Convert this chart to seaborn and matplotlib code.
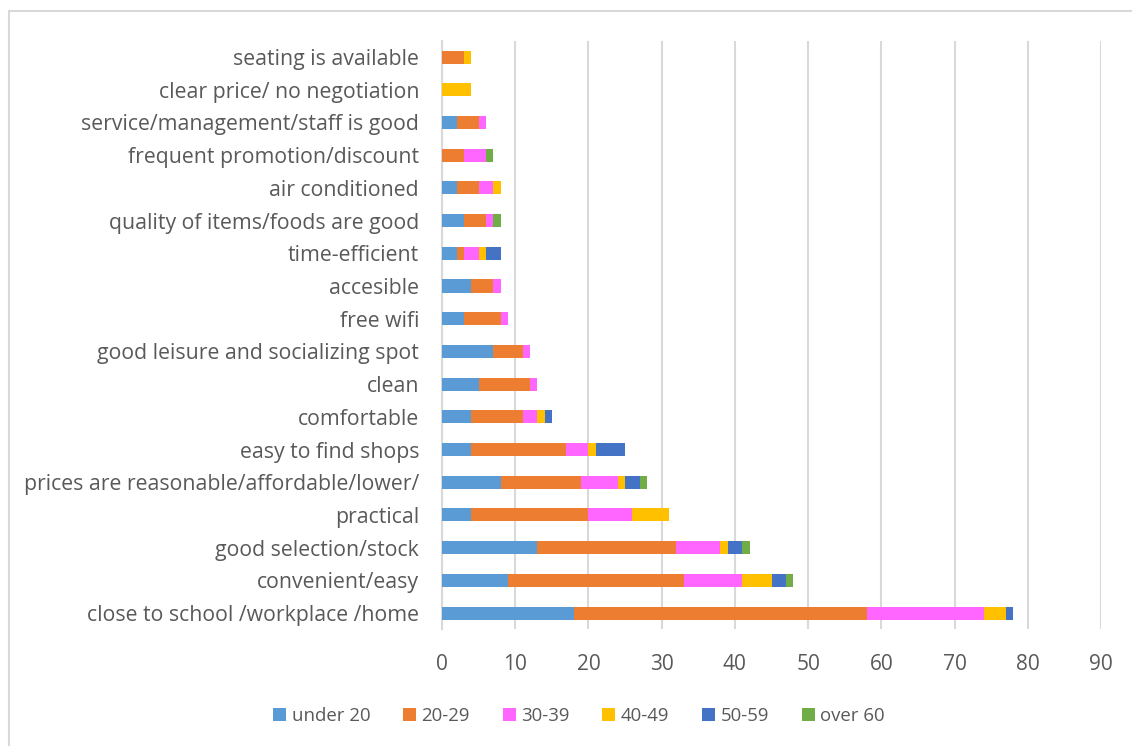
import numpy as np
import pandas as pd
import seaborn as sns
import matplotlib
matplotlib.use("Agg")
import matplotlib.pyplot as plt
from matplotlib.patches import Patch, Rectangle

reasons = [
    "seating is available",
    "clear price/ no negotiation",
    "service/management/staff is good",
    "frequent promotion/discount",
    "air conditioned",
    "quality of items/foods are good",
    "time-efficient",
    "accesible",
    "free wifi",
    "good leisure and socializing spot",
    "clean",
    "comfortable",
    "easy to find shops",
    "prices are reasonable/affordable/lower/",
    "practical",
    "good selection/stock",
    "convenient/easy",
    "close to school /workplace /home",
]

age_groups = ["under 20", "20-29", "30-39", "40-49", "50-59", "over 60"]

under_20 = [0, 0, 2, 0, 2, 3, 2, 4, 3, 7, 5, 4, 4, 8, 4, 13, 9, 18]
age_20_29 = [3, 0, 3, 3, 3, 3, 1, 3, 5, 4, 7, 7, 13, 11, 16, 19, 24, 40]
age_30_39 = [0, 0, 1, 3, 2, 1, 2, 1, 1, 1, 1, 2, 3, 5, 6, 6, 8, 16]
age_40_49 = [1, 4, 0, 0, 1, 0, 1, 0, 0, 0, 0, 1, 1, 1, 5, 1, 4, 3]
age_50_59 = [0, 0, 0, 0, 0, 0, 2, 0, 0, 0, 0, 1, 4, 2, 0, 2, 2, 1]
over_60 = [0, 0, 0, 1, 0, 1, 0, 0, 0, 0, 0, 0, 0, 1, 0, 1, 1, 0]

colors = ["#5B9BD5", "#ED7D31", "#FF66FF", "#FFC000", "#4472C4", "#70AD47"]

series = [under_20, age_20_29, age_30_39, age_40_49, age_50_59, over_60]
df = pd.DataFrame(dict(zip(age_groups, series)), index=reasons)
cum = df.cumsum(axis=1)

sns.set_theme(style="white")
plt.rcParams["font.family"] = ["Open Sans", "DejaVu Sans"]
text_color = "#595959"
grid_color = "#D9D9D9"

fig = plt.figure(figsize=(11.32, 7.46), dpi=100)
ax = fig.add_axes([442 / 1132, 1 - 629.4 / 746, (1101 - 442) / 1132, (629.4 - 40.7) / 746])

# Stacked bars: draw running totals from the outermost segment inward
for group, color in reversed(list(zip(age_groups, colors))):
    plot_df = pd.DataFrame({"reason": reasons, "total": cum[group].values})
    sns.barplot(data=plot_df, x="total", y="reason", order=reasons,
                color=color, saturation=1, width=0.4, orient="h",
                ax=ax, zorder=3, linewidth=0)

ax.set_xlim(0, 90)
ax.set_xticks(np.arange(0, 91, 10))
ax.set_xlabel("")
ax.set_ylabel("")
ax.grid(axis="x", color=grid_color, linewidth=1.5, zorder=0)
ax.grid(axis="y", visible=False)
ax.set_axisbelow(True)
for side in ["top", "right", "bottom"]:
    ax.spines[side].set_visible(False)
ax.spines["left"].set_color(grid_color)
ax.spines["left"].set_linewidth(1.5)
ax.tick_params(axis="both", length=0, colors=text_color)
ax.tick_params(axis="y", labelsize=15.3, pad=16.5)
ax.tick_params(axis="x", labelsize=15, pad=18)

handles = [Patch(facecolor=c, edgecolor="none", label=g) for g, c in zip(age_groups, colors)]
fig.legend(handles=handles, loc="center", bbox_to_anchor=(579 / 1132, 1 - 716 / 746),
           ncol=6, frameon=False, fontsize=13.4, labelcolor=text_color,
           handlelength=0.7, handleheight=0.7, handletextpad=0.3, columnspacing=1.75)

# Chart area outline
fig.patches.append(Rectangle((8.5 / 1132, -0.1), 1.2, 1.1 - 11.5 / 746,
                             transform=fig.transFigure, fill=False,
                             edgecolor=grid_color, linewidth=1.5))

fig.savefig("out.png", dpi=100, facecolor="white")
